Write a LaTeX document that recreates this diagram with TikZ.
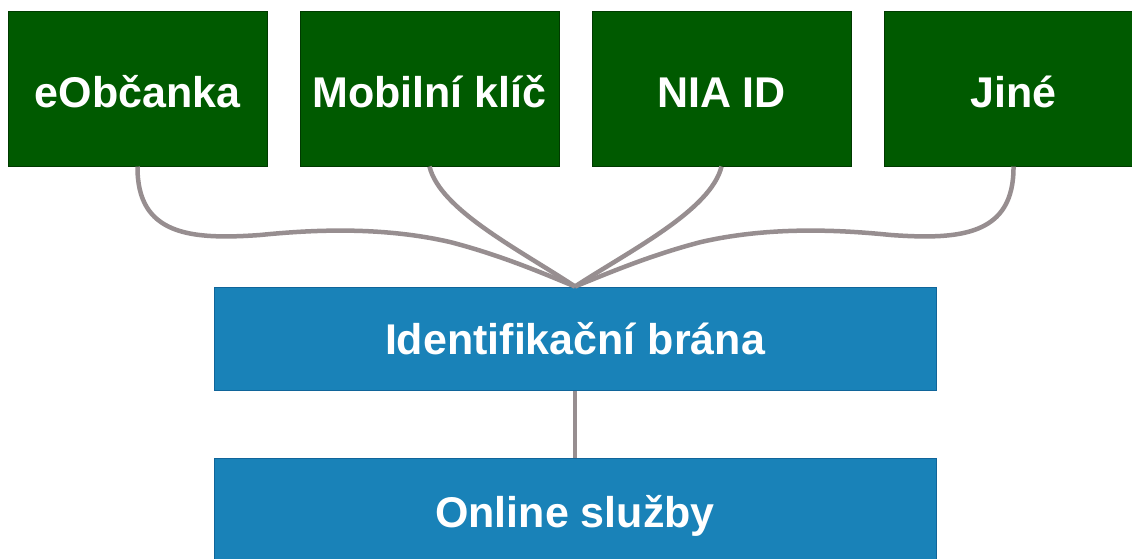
\documentclass[tikz,border=0pt]{standalone}
\usepackage{fontspec}
\setmainfont{Liberation Sans}
\definecolor{gfill}{HTML}{005A00}
\definecolor{gline}{HTML}{003A00}
\definecolor{bfill}{HTML}{1982B8}
\definecolor{bline}{HTML}{10659A}
\definecolor{conn}{HTML}{978E90}
\begin{document}
\begin{tikzpicture}[x=1pt,y=-1pt,
  boxtext/.style={inner sep=0pt,text=white,text height=31pt,text depth=0pt,font=\fontsize{43}{50}\selectfont\bfseries},
  gbox/.style={boxtext,draw=gline,fill=gfill,line width=1pt,minimum width=259pt,minimum height=155pt},
  bbox/.style={boxtext,draw=bline,fill=bfill,line width=1pt,minimum width=722pt,minimum height=103pt},
  conline/.style={draw=conn,line width=4.5pt}]
\useasboundingbox (0,0) rectangle (1132,558);
\clip (0,0) rectangle (1132,558);
\fill[white] (0,0) rectangle (1132,558);
\node[gbox] (g1) at (137.5,88.5) {\raisebox{-3pt}{eObčanka}};
\node[gbox] (g2) at (429.5,88.5) {\raisebox{-3pt}{Mobilní klíč}};
\node[gbox] (g3) at (721.5,88.5) {\raisebox{-3pt}{NIA ID}};
\node[gbox] (g4) at (1013.5,88.5) {\raisebox{-3pt}{Jiné}};
\node[bbox] (ib) at (575,338.5) {Identifikační brána};
\node[bbox,minimum height=108pt] (os) at (575,512) {Online služby};
\draw[conline] (ib.south) -- (os.north);
\draw[conline] (g1.south) .. controls (137,235) and (190,240) .. (260,235)
  .. controls (310,230) and (380,226) .. (450,242)
  .. controls (500,255) and (540,272) .. (ib.north);
\draw[conline] (g4.south) .. controls (1014,235) and (961,240) .. (891,235)
  .. controls (841,230) and (771,226) .. (701,242)
  .. controls (651,255) and (611,272) .. (ib.north);
\draw[conline] (g2.south) .. controls (440,210) and (520,250) .. (ib.north);
\draw[conline] (g3.south) .. controls (711,210) and (631,250) .. (ib.north);
\end{tikzpicture}
\end{document}
